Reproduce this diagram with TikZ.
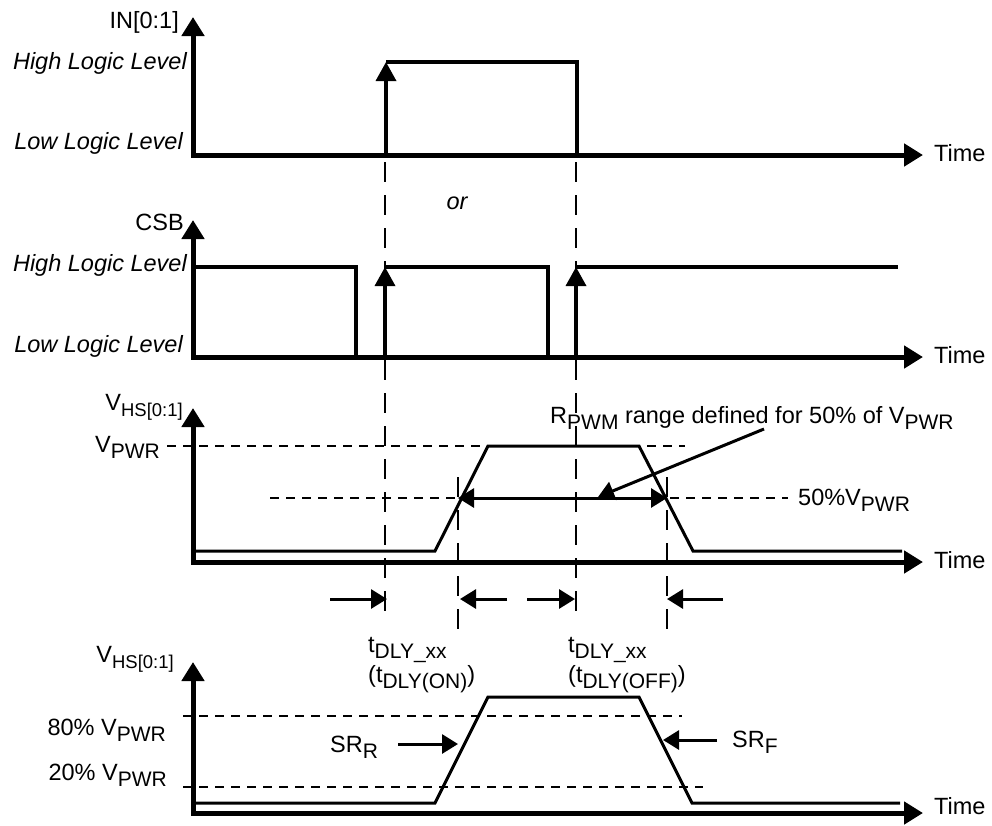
\documentclass[tikz,border=0pt]{standalone}
\usepackage{fontspec}
\setmainfont{Liberation Sans}
\usetikzlibrary{arrows.meta}
\newcommand\sbs[1]{\raisebox{-6pt}{\fontsize{21}{22}\selectfont #1}}
\newcommand\sbsm[1]{\raisebox{-6pt}{\fontsize{18.5}{20}\selectfont #1}}
\begin{document}
\begin{tikzpicture}[x=1pt,y=-1pt,
  axis/.style={line width=5pt, line join=miter, {Triangle[length=19pt,width=22pt]}-{Triangle[length=19pt,width=22pt]}},
  logic/.style={line width=3.5pt, line join=miter},
  uparrow/.style={line width=3.5pt, -{Triangle[length=19pt,width=20pt]}},
  trace/.style={line width=3pt, line join=miter},
  guide/.style={line width=2.5pt, dash pattern=on 20pt off 13pt},
  level/.style={line width=2.5pt, dash pattern=on 9pt off 7pt},
  marker/.style={line width=3pt, -{Triangle[length=16pt,width=19pt]}},
  span/.style={line width=3pt, {Triangle[length=16pt,width=19pt]}-{Triangle[length=16pt,width=19pt]}},
  lbl/.style={inner sep=0pt, font=\fontsize{23.5}{26}\selectfont},
  ilbl/.style={inner sep=0pt, font=\fontsize{23.5}{26}\selectfont\itshape},
]
\useasboundingbox (0,0) rectangle (992,825);

% ---------- Panel 1: IN ----------
\coordinate (a1t) at (193,17);
\coordinate (a1o) at (193,155);
\coordinate (a1r) at (923,155);
\draw[axis] (a1t) -- (a1o) -- (a1r);
\node[lbl, anchor=east] (in) at (179,22) {IN[0:1]};
\node[lbl, anchor=west] (time1) at (934,153) {Time};
\node[ilbl, anchor=east] (hi1) at (187,63) {High Logic Level};
\node[ilbl, anchor=east] (lo1) at (183,143) {Low Logic Level};
\coordinate (p1a) at (386,155);
\coordinate (p1b) at (386,62);
\coordinate (p1c) at (577,62);
\coordinate (p1d) at (577,155);
\draw[uparrow] (p1a) -- (p1b);
\draw[logic] (p1b) -- (p1c) -- (p1d);
\node[ilbl] (or) at (457,203) {or};

% ---------- vertical guides ----------
\coordinate (g1a) at (385,162); \coordinate (g1b) at (385,612);
\coordinate (g2a) at (576,162); \coordinate (g2b) at (576,617);
\draw[guide] (g1a) -- (g1b);
\draw[guide] (g2a) -- (g2b);

% ---------- Panel 2: CSB ----------
\coordinate (a2t) at (193,220);
\coordinate (a2o) at (193,357);
\coordinate (a2r) at (923,357);
\draw[axis] (a2t) -- (a2o) -- (a2r);
\node[lbl, anchor=east] (csb) at (184,222) {CSB};
\node[lbl, anchor=west] (time2) at (934,355) {Time};
\node[ilbl, anchor=east] (hi2) at (187,265) {High Logic Level};
\node[ilbl, anchor=east] (lo2) at (183,346) {Low Logic Level};
\draw[logic] (193,267) -- (356,267) -- (356,357);
\draw[uparrow] (385,357) -- (385,267);
\draw[logic] (385,267) -- (548,267) -- (548,357);
\draw[uparrow] (576,357) -- (576,267);
\draw[logic] (576,267) -- (898,267);

% ---------- Panel 3: VHS (50%) ----------
\coordinate (a3t) at (193,408);
\coordinate (a3o) at (193,562);
\coordinate (a3r) at (923,562);
\draw[axis] (a3t) -- (a3o) -- (a3r);
\node[lbl, anchor=base east] (vhs1) at (183,410) {V\sbsm{HS[0:1]}};
\node[lbl, anchor=base east] (vpwr) at (160,452) {V\sbs{PWR}};
\node[lbl, anchor=west] (time3) at (934,560) {Time};
\draw[level] (167,446) -- (685,446);
\draw[level] (270,498) -- (788,498);
\node[lbl, anchor=base west] (half) at (798,505) {50\%V\sbs{PWR}};
\draw[trace] (195,551) -- (435,551) -- (488,446) -- (639,446) -- (693,551) -- (902,551);
\coordinate (g3a) at (458,477); \coordinate (g3b) at (458,630);
\coordinate (g4a) at (667,477); \coordinate (g4b) at (667,630);
\draw[guide] (g3a) -- (g3b);
\draw[guide] (g4a) -- (g4b);
\coordinate (sp1) at (458,498); \coordinate (sp2) at (667,498);
\draw[span] (sp1) -- (sp2);
\node[lbl, anchor=base west] (rpwm) at (550,423) {R\sbs{PWM} range defined for 50\% of V\sbs{PWR}};
\coordinate (ptr) at (764,429); \coordinate (ptrtip) at (598,497);
\draw[marker] (ptr) -- (ptrtip);

% ---------- delay markers ----------
\draw[marker] (330,599) -- (387,599);
\draw[marker] (507,599) -- (460,599);
\draw[marker] (527,599) -- (575,599);
\draw[marker] (723,599) -- (667,599);
\node[lbl, anchor=base west] (d1) at (368,652) {t\sbs{DLY\_xx}};
\node[lbl, anchor=base west] (d1b) at (368,682) {(t\sbs{DLY(ON)})};
\node[lbl, anchor=base west] (d2) at (568,652) {t\sbs{DLY\_xx}};
\node[lbl, anchor=base west] (d2b) at (568,682) {(t\sbs{DLY(OFF)})};

% ---------- Panel 4: VHS (slew) ----------
\coordinate (a4t) at (193,662);
\coordinate (a4o) at (193,813);
\coordinate (a4r) at (923,813);
\draw[axis] (a4t) -- (a4o) -- (a4r);
\node[lbl, anchor=base east] (vhs2) at (174,662) {V\sbsm{HS[0:1]}};
\node[lbl, anchor=base east] (p80) at (166,735) {80\% V\sbs{PWR}};
\node[lbl, anchor=base east] (p20) at (167,780) {20\% V\sbs{PWR}};
\node[lbl, anchor=west] (time4) at (934,806) {Time};
\draw[level] (183,716) -- (682,716);
\draw[level] (183,787) -- (703,787);
\draw[trace] (195,803) -- (435,803) -- (488,697) -- (639,697) -- (692,803) -- (900,803);
\node[lbl, anchor=base west] (srr) at (330,752) {SR\sbs{R}};
\node[lbl, anchor=base west] (srf) at (732,747) {SR\sbs{F}};
\draw[marker] (398,744) -- (458,744);
\draw[marker] (717,740) -- (663,740);
\end{tikzpicture}
\end{document}
